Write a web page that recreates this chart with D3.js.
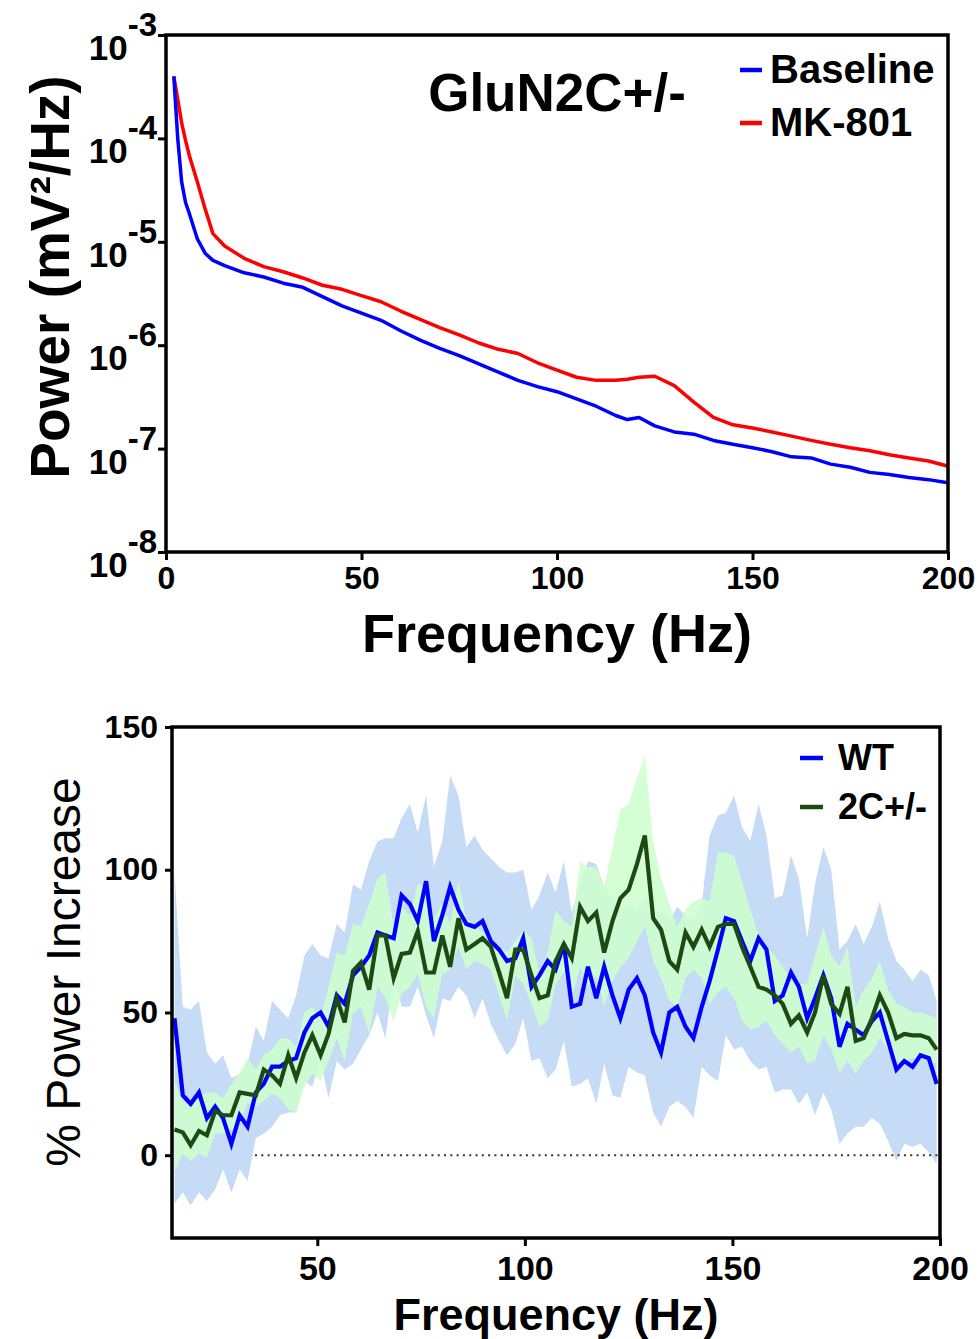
<!DOCTYPE html>
<html>
<head>
<meta charset="utf-8">
<script src="https://cdn.jsdelivr.net/npm/d3@7"></script>
<style>
  body { margin: 0; background: #fff; }
  svg { display: block; }
  text { font-family: "Liberation Sans", Arial, sans-serif; }
</style>
</head>
<body>
<div id="chart"></div>
<script>
// ---- Panneau du haut : spectre de puissance (échelle log) ----
const topFreq = [2, 3, 4, 5, 6, 8, 10, 12, 15, 20, 25, 30, 35, 40, 45, 50, 55, 60, 65, 70,
  75, 80, 85, 90, 95, 100, 105, 110, 115, 118, 121, 125, 130, 135, 140, 145, 150, 155, 160,
  165, 170, 175, 180, 185, 190, 195, 200]
const baselinePower = [3.98e-4, 1.0e-4, 3.8e-5, 2.4e-5, 1.86e-5, 1.07e-5, 7.76e-6, 6.61e-6,
  5.89e-6, 5.01e-6, 4.57e-6, 3.98e-6, 3.63e-6, 2.95e-6, 2.4e-6, 2.04e-6, 1.74e-6, 1.38e-6,
  1.12e-6, 9.33e-7, 7.94e-7, 6.61e-7, 5.5e-7, 4.57e-7, 3.98e-7, 3.55e-7, 3.02e-7, 2.57e-7,
  2.09e-7, 1.91e-7, 2.0e-7, 1.66e-7, 1.45e-7, 1.38e-7, 1.2e-7, 1.1e-7, 1.02e-7, 9.33e-8,
  8.32e-8, 8.13e-8, 7.08e-8, 6.61e-8, 5.89e-8, 5.62e-8, 5.25e-8, 5.01e-8, 4.68e-8]
const mk801Power = [3.98e-4, 2.4e-4, 1.41e-4, 9.55e-5, 6.76e-5, 3.8e-5, 2.09e-5, 1.2e-5,
  9.12e-6, 6.92e-6, 5.75e-6, 5.13e-6, 4.47e-6, 3.8e-6, 3.47e-6, 3.02e-6, 2.63e-6, 2.14e-6,
  1.78e-6, 1.48e-6, 1.26e-6, 1.05e-6, 9.12e-7, 8.32e-7, 6.76e-7, 5.75e-7, 4.9e-7, 4.57e-7,
  4.57e-7, 4.68e-7, 4.9e-7, 5.01e-7, 4.07e-7, 2.82e-7, 2.0e-7, 1.7e-7, 1.58e-7, 1.45e-7,
  1.32e-7, 1.2e-7, 1.1e-7, 1.02e-7, 9.55e-8, 8.71e-8, 8.13e-8, 7.59e-8, 6.76e-8]
const topXTicks = [0, 50, 100, 150, 200]
const topYExponents = [-3, -4, -5, -6, -7, -8]
const topSeries = ["Baseline", "MK-801"]

// ---- Panneau du bas : % d'augmentation de puissance (moyenne ± bande) ----
const freq = [15.6, 17.6, 19.5, 21.5, 23.4, 25.4, 27.3, 29.3, 31.3, 33.2,
  35.2, 37.1, 39.1, 41.0, 43.0, 44.9, 46.9, 48.8, 50.8, 52.7,
  54.7, 56.6, 58.6, 60.5, 62.5, 64.5, 66.4, 68.4, 70.3, 72.3,
  74.2, 76.2, 78.1, 80.1, 82.0, 84.0, 85.9, 87.9, 89.8, 91.8,
  93.8, 95.7, 97.7, 99.6, 101.6, 103.5, 105.5, 107.4, 109.4, 111.3,
  113.3, 115.2, 117.2, 119.1, 121.1, 123.0, 125.0, 127.0, 128.9, 130.9,
  132.8, 134.8, 136.7, 138.7, 140.6, 142.6, 144.5, 146.5, 148.4, 150.4,
  152.3, 154.3, 156.3, 158.2, 160.2, 162.1, 164.1, 166.0, 168.0, 169.9,
  171.9, 173.8, 175.8, 177.7, 179.7, 181.6, 183.6, 185.5, 187.5, 189.5,
  191.4, 193.4, 195.3, 197.3, 199.2]
const wtMean = [48, 21, 18, 22, 13, 17, 13, 4, 14, 10,
  22, 25, 31, 31, 33, 34, 43, 48, 50, 45,
  56, 53, 63, 66, 70, 78, 77, 76, 91, 88,
  82, 96, 75, 84, 94, 86, 81, 80, 82, 75,
  72, 68, 69, 76, 59, 63, 68, 65, 74, 52,
  53, 66, 55, 66, 56, 48, 58, 62, 56, 43,
  36, 50, 52, 45, 41, 52, 61, 72, 83, 82,
  75, 68, 76, 72, 54, 56, 64, 59, 48, 55,
  63, 55, 38, 46, 44, 42, 47, 50, 40, 30,
  33, 31, 35, 34, 25]
const wtLow = [-17, -13, -17.5, -13, -16, -12, -5, -13, -5, -9,
  6, 7.5, 10, 14, 15, 15, 26, 24, 33, 20,
  33, 30, 32, 37, 42, 50, 41, 63, 52, 52,
  59, 49, 41, 55, 54, 59, 56, 48, 55, 46,
  40, 35, 39, 48, 33, 34, 27, 30, 40, 24,
  25, 27, 18, 32, 21, 20, 31, 29, 28, 15,
  10, 17, 19, 17, 13, 31, 28, 26, 42, 37,
  38, 33, 30, 31, 22, 23, 23, 18, 22, 14,
  22, 16, 4, 7.6, 10, 10, 13, 11, 5, -2,
  4, 3, 4, 1, -3]
const wtHigh = [99, 52, 51, 54, 36, 32, 35, 27, 28.5, 32,
  45, 40, 54, 51, 48, 56, 70, 74, 70, 69,
  81, 78, 95, 93, 103, 110, 111, 111, 118, 123,
  113, 126, 101, 110, 133, 126, 108, 112, 107, 104,
  101, 99, 99, 100, 86, 91, 99, 92, 103, 85,
  95, 103, 102, 94, 90, 85, 88, 85, 90, 88,
  85, 82, 87, 84, 82, 88, 112, 119, 120, 126,
  115, 110, 123, 112, 90, 91, 105, 97, 76, 95,
  108, 100, 72, 75, 81, 74, 80, 89, 76, 68,
  65, 61, 65, 63, 54]
const c2Mean = [9, 8, 3.5, 8.5, 7, 15.5, 14, 14, 22, 21.5,
  21, 30, 28, 25, 35, 27, 36, 42, 35, 42.5,
  55, 46.5, 64.5, 67.5, 58, 77, 77, 62, 70.5, 71,
  78.5, 64, 64, 77, 66, 83, 72, 74, 76, 73,
  64, 55, 72, 72, 63, 55, 56, 68, 74, 69,
  87, 82, 85, 71, 82, 90, 93, 102, 112, 83,
  79, 68, 65, 78, 73, 79, 73, 80, 81, 81,
  73, 66, 59, 58, 56, 53, 46, 49, 43, 50,
  63, 53, 49.5, 59, 40, 41, 48, 56, 50, 41,
  42.5, 42, 42, 41, 37]
const c2Low = [-6, 0.5, -2, 0.5, -1, 7.5, 7.5, 9, 11, 18.5,
  17, 19, 21.5, 20, 16, 15, 24, 28.5, 26, 33,
  41, 33, 49.5, 52, 42.5, 59, 55, 47, 56.5, 59,
  63.5, 52, 48, 63.5, 65, 73, 65, 68, 67, 65,
  56, 47, 63, 60, 53, 45, 47, 60, 64, 55,
  66, 59, 63, 52, 61, 66, 69, 75, 80, 68,
  62, 54, 52, 62, 65, 62, 53, 57, 59, 55,
  47, 44, 45, 47, 42, 39, 36, 38, 32, 33,
  42, 37, 28.5, 33, 28.5, 33, 36, 41, 37, 33,
  33, 34, 34, 33, 32]
const c2High = [26, 19, 18, 20, 22, 22, 20, 25, 29, 34,
  30, 35, 37, 41, 41, 38, 50, 52, 48, 59,
  71, 70, 81, 80, 88, 97, 99, 80, 87, 84,
  95, 94, 83, 88, 81, 96, 83, 80, 78, 75,
  73, 71, 75, 79, 76, 64, 71, 86, 82, 80,
  103, 101, 101, 94, 108, 121, 123, 132, 140, 110,
  97, 88, 80, 86, 89, 90, 89, 106, 106, 105,
  96, 86, 77, 73, 70, 66, 61, 60, 60, 70,
  80, 70, 66, 73, 52, 58, 62, 68, 58, 53,
  52, 50, 50, 49, 48]
const botXTicks = [50, 100, 150, 200]
const botYTicks = [0, 50, 100, 150]
const botSeries = ["WT", "2C+/-"]

const colors = {
  baseline: "#0000ff", mk801: "#ff0000",
  wt: "#0000ff", wtBand: "#c6dbf6",
  c2: "#1c4a12", c2Band: "#ccffcc"
}

const svg = d3.select("#chart").append("svg")
  .attr("width", 978).attr("height", 1339)

// =================== Haut ===================
const tm = { left: 166, right: 948, top: 35, bottom: 552 }
const xTop = d3.scaleLinear().domain([0, 200]).range([tm.left, tm.right])
const yTop = d3.scaleLog().domain([1e-8, 1e-3]).range([tm.bottom, tm.top])

svg.append("clipPath").attr("id", "clipTop").append("rect")
  .attr("x", tm.left).attr("y", tm.top)
  .attr("width", tm.right - tm.left).attr("height", tm.bottom - tm.top)

const lineTop = (vals) => d3.line()
  .x((_, i) => xTop(topFreq[i]))
  .y((_, i) => yTop(vals[i]))(vals)

const gTop = svg.append("g").attr("clip-path", "url(#clipTop)")
gTop.append("path").attr("d", lineTop(mk801Power))
  .attr("fill", "none").attr("stroke", colors.mk801).attr("stroke-width", 3.5)
  .attr("stroke-linejoin", "round")
gTop.append("path").attr("d", lineTop(baselinePower))
  .attr("fill", "none").attr("stroke", colors.baseline).attr("stroke-width", 3.5)
  .attr("stroke-linejoin", "round")

// axe X
svg.append("g")
  .attr("transform", `translate(0,${tm.bottom})`)
  .call(d3.axisBottom(xTop).tickValues(topXTicks).tickSize(8).tickPadding(6))
  .call(g => g.select(".domain").remove())
  .call(g => g.selectAll("line").attr("stroke", "#000").attr("stroke-width", 3))
  .call(g => g.selectAll("text").attr("fill", "#000").attr("font-size", 32)
    .attr("font-weight", "bold").attr("font-family", "Liberation Sans, Arial, sans-serif"))

// axe Y (log) : ticks via d3, labels 10^n construits à la main
svg.append("g")
  .attr("transform", `translate(${tm.left},0)`)
  .call(d3.axisLeft(yTop).tickValues(topYExponents.map(e => Math.pow(10, e)))
    .tickSize(8).tickFormat(""))
  .call(g => g.select(".domain").remove())
  .call(g => g.selectAll("line").attr("stroke", "#000").attr("stroke-width", 3))

const yLab = svg.append("g").selectAll("text")
  .data(topYExponents)
  .join("text")
  .attr("x", 157)
  .attr("y", d => yTop(Math.pow(10, d)) + 25)
  .attr("text-anchor", "end")
  .attr("font-size", 35)
  .attr("font-weight", "bold")
  .attr("fill", "#000")
yLab.append("tspan").text("10")
yLab.append("tspan").attr("dy", -24).attr("font-size", 33).text(d => String(d))

// cadre
svg.append("rect")
  .attr("x", tm.left).attr("y", tm.top)
  .attr("width", tm.right - tm.left).attr("height", tm.bottom - tm.top)
  .attr("fill", "none").attr("stroke", "#000").attr("stroke-width", 3.5)

svg.append("text")
  .attr("x", 557).attr("y", 652)
  .attr("text-anchor", "middle").attr("font-size", 54).attr("font-weight", "bold")
  .text("Frequency (Hz)")

svg.append("text")
  .attr("transform", "translate(69,277) rotate(-90)")
  .attr("text-anchor", "middle").attr("font-size", 55).attr("font-weight", "bold")
  .text("Power (mV²/Hz)")

svg.append("text")
  .attr("x", 557).attr("y", 111)
  .attr("text-anchor", "middle").attr("font-size", 53).attr("font-weight", "bold")
  .text("GluN2C+/-")

const legTop = svg.append("g").selectAll("g")
  .data(topSeries)
  .join("g")
  .attr("transform", (_, i) => `translate(740,${70 + i * 53})`)
legTop.append("line")
  .attr("x1", 0).attr("x2", 22)
  .attr("stroke", (_, i) => i === 0 ? colors.baseline : colors.mk801)
  .attr("stroke-width", 4.5)
legTop.append("text")
  .attr("x", 30).attr("y", 13)
  .attr("font-size", 40).attr("font-weight", "bold")
  .text(d => d)

// =================== Bas ===================
const bm = { left: 172, right: 940, top: 727, bottom: 1238 }
const xBot = d3.scaleLinear().domain([15, 200]).range([bm.left, bm.right])
const yBot = d3.scaleLinear().domain([-29, 150]).range([bm.bottom, bm.top])

svg.append("clipPath").attr("id", "clipBot").append("rect")
  .attr("x", bm.left).attr("y", bm.top)
  .attr("width", bm.right - bm.left).attr("height", bm.bottom - bm.top)

const gBot = svg.append("g").attr("clip-path", "url(#clipBot)")

const band = (lo, hi) => d3.area()
  .x((_, i) => xBot(freq[i]))
  .y0((_, i) => yBot(lo[i]))
  .y1((_, i) => yBot(hi[i]))(freq)
const meanLine = (vals) => d3.line()
  .x((_, i) => xBot(freq[i]))
  .y((_, i) => yBot(vals[i]))(vals)

gBot.append("path").attr("d", band(wtLow, wtHigh)).attr("fill", colors.wtBand)
gBot.append("path").attr("d", band(c2Low, c2High)).attr("fill", colors.c2Band)
  .attr("fill-opacity", 0.85)

// ligne de référence à 0 (pointillés, à partir de 35 Hz)
gBot.append("line")
  .attr("x1", xBot(35)).attr("x2", xBot(200))
  .attr("y1", yBot(0)).attr("y2", yBot(0))
  .attr("stroke", "#333").attr("stroke-width", 2)
  .attr("stroke-dasharray", "2,4.3")

gBot.append("path").attr("d", meanLine(wtMean))
  .attr("fill", "none").attr("stroke", colors.wt).attr("stroke-width", 4.2)
  .attr("stroke-linejoin", "miter")
gBot.append("path").attr("d", meanLine(c2Mean))
  .attr("fill", "none").attr("stroke", colors.c2).attr("stroke-width", 4.2)
  .attr("stroke-linejoin", "miter")

svg.append("g")
  .attr("transform", `translate(0,${bm.bottom})`)
  .call(d3.axisBottom(xBot).tickValues(botXTicks).tickSize(8).tickPadding(10))
  .call(g => g.select(".domain").remove())
  .call(g => g.selectAll("line").attr("stroke", "#000").attr("stroke-width", 3))
  .call(g => g.selectAll("text").attr("fill", "#000").attr("font-size", 34)
    .attr("font-weight", "bold").attr("font-family", "Liberation Sans, Arial, sans-serif"))

svg.append("g")
  .attr("transform", `translate(${bm.left},0)`)
  .call(d3.axisLeft(yBot).tickValues(botYTicks).tickSize(7).tickPadding(7))
  .call(g => g.select(".domain").remove())
  .call(g => g.selectAll("line").attr("stroke", "#000").attr("stroke-width", 3))
  .call(g => g.selectAll("text").attr("fill", "#000").attr("font-size", 32)
    .attr("font-weight", "bold").attr("font-family", "Liberation Sans, Arial, sans-serif"))

svg.append("rect")
  .attr("x", bm.left).attr("y", bm.top)
  .attr("width", bm.right - bm.left).attr("height", bm.bottom - bm.top)
  .attr("fill", "none").attr("stroke", "#000").attr("stroke-width", 3.5)

svg.append("text")
  .attr("x", 556).attr("y", 1330)
  .attr("text-anchor", "middle").attr("font-size", 45).attr("font-weight", "bold")
  .text("Frequency (Hz)")

svg.append("text")
  .attr("transform", "translate(80,972) rotate(-90)")
  .attr("text-anchor", "middle").attr("font-size", 48)
  .text("% Power Increase")

const legBot = svg.append("g").selectAll("g")
  .data(botSeries)
  .join("g")
  .attr("transform", (_, i) => `translate(800,${758 + i * 49})`)
legBot.append("line")
  .attr("x1", 0).attr("x2", 23)
  .attr("stroke", (_, i) => i === 0 ? colors.wt : colors.c2)
  .attr("stroke-width", 4.5)
legBot.append("text")
  .attr("x", 38).attr("y", 12)
  .attr("font-size", 36).attr("font-weight", "bold")
  .text(d => d)
</script>
</body>
</html>
